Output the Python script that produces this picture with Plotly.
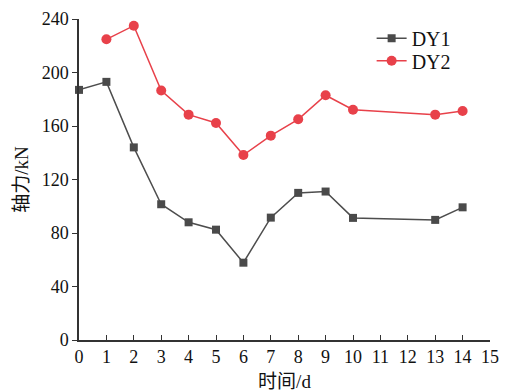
import plotly.graph_objects as go

dy1_x = [0, 1, 2, 3, 4, 5, 6, 7, 8, 9, 10, 13, 14]
dy1_y = [187, 193, 144, 101.5, 88, 82.5, 57.8, 91.5, 110, 111, 91.3, 89.8, 99.2]
dy2_x = [1, 2, 3, 4, 5, 6, 7, 8, 9, 10, 13, 14]
dy2_y = [224.8, 235, 186.5, 168.5, 162.3, 138.3, 152.8, 165, 183, 172.2, 168.5, 171.2]

x_ticks = list(range(0, 16))
y_ticks = [0, 40, 80, 120, 160, 200, 240]

serif = "Liberation Serif, Times New Roman, serif"
cjk = "Liberation Serif, Noto Sans CJK SC"

fig = go.Figure()
fig.add_trace(go.Scatter(x=dy1_x, y=dy1_y, name="DY1", mode="lines+markers",
                         line=dict(color="#4d4d4d", width=1.5),
                         marker=dict(symbol="square", size=8, color="#4a4a4a"),
                         cliponaxis=False, legend="legend"))
fig.add_trace(go.Scatter(x=dy2_x, y=dy2_y, name="DY2", mode="lines+markers",
                         line=dict(color="#e8414a", width=1.5),
                         marker=dict(symbol="circle", size=10, color="#e8414a"),
                         cliponaxis=False, legend="legend2"))

leg_common = dict(xanchor="left", yanchor="middle", bgcolor="rgba(0,0,0,0)",
                  font=dict(family=serif, size=20, color="#111"), itemwidth=30,
                  borderwidth=0)

fig.update_layout(
    width=508, height=392,
    margin=dict(l=79, r=18, t=19, b=52),
    paper_bgcolor="white", plot_bgcolor="white",
    font=dict(family=serif, size=18, color="#111"),
    legend=dict(x=0.712, y=0.940, **leg_common),
    legend2=dict(x=0.712, y=0.870, **leg_common),
    xaxis=dict(range=[0, 15], tickvals=x_ticks, ticks="inside", ticklen=5,
               tickcolor="#333", showline=True, linecolor="#333", linewidth=1.5,
               showgrid=False, zeroline=False, automargin=False,
               tickfont=dict(family=serif, size=18),
               title=dict(text="时间/d", font=dict(family=cjk, size=19), standoff=8)),
    yaxis=dict(range=[0, 240], tickvals=y_ticks, ticks="outside", ticklen=5,
               tickcolor="#333", showline=True, linecolor="#333", linewidth=1.5,
               showgrid=False, zeroline=False, automargin=False,
               tickfont=dict(family=serif, size=18),
               title=dict(text="轴力/kN", font=dict(family=cjk, size=19), standoff=8)),
    showlegend=True,
)

fig.write_html("out.html")
